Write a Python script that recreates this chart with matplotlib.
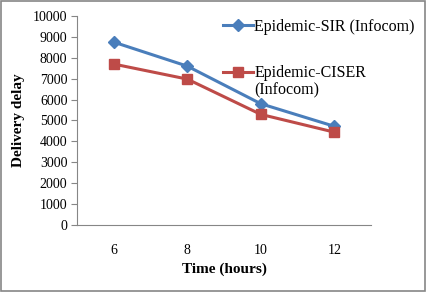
import numpy as np
from matplotlib import pyplot as plt

plt.rcParams['font.family'] = ['Liberation Serif', 'DejaVu Serif']

hours = ['6', '8', '10', '12']
sir = [8750, 7600, 5800, 4720]      # Epidemic-SIR (Infocom)
ciser = [7700, 6980, 5290, 4440]    # Epidemic-CISER (Infocom)

fig = plt.figure(figsize=(4.26, 2.92), dpi=100)
ax = fig.add_axes([0.181, 0.23, 0.69, 0.715])

x = np.arange(len(hours))
ax.plot(x, sir, color='#4a7ebb', lw=2.2, marker='D', ms=6, label='Epidemic-SIR (Infocom)')
ax.plot(x, ciser, color='#be4b48', lw=2.2, marker='s', ms=7, label='Epidemic-CISER')

ax.set_xlim(-0.5, 3.5)
ax.set_ylim(0, 10000)
ax.set_yticks(range(0, 10001, 1000))
ax.set_xticks(x)
ax.set_xticklabels(hours)
ax.tick_params(axis='x', length=0, pad=14, labelsize=10)
ax.tick_params(axis='y', length=4, color='#868686', labelsize=10, pad=3)

for s in ['top', 'right']:
    ax.spines[s].set_visible(False)
for s in ['left', 'bottom']:
    ax.spines[s].set_color('#868686')

ax.set_xlabel('Time (hours)', fontweight='bold', fontsize=11, labelpad=4)
ax.set_ylabel('Delivery delay', fontweight='bold', fontsize=11, labelpad=6)

leg = fig.legend(loc='upper left', bbox_to_anchor=(0.490, 0.985), frameon=False,
                 fontsize=11.5, handlelength=1.85, handletextpad=0.1, labelspacing=1.9)

# wrapped second line of the CISER label, put right under it
fig.canvas.draw()
bb = leg.get_texts()[1].get_window_extent().transformed(fig.transFigure.inverted())
fig.text(bb.x0, bb.y0 - 0.003, '(Infocom)', fontsize=11.5, va='top', ha='left')

# outer border
fig.patches.append(plt.Rectangle((0.002, 0.003), 0.995, 0.994, transform=fig.transFigure,
                                 fill=False, edgecolor='#868686', lw=1.2))

fig.savefig('out.png', dpi=100)
